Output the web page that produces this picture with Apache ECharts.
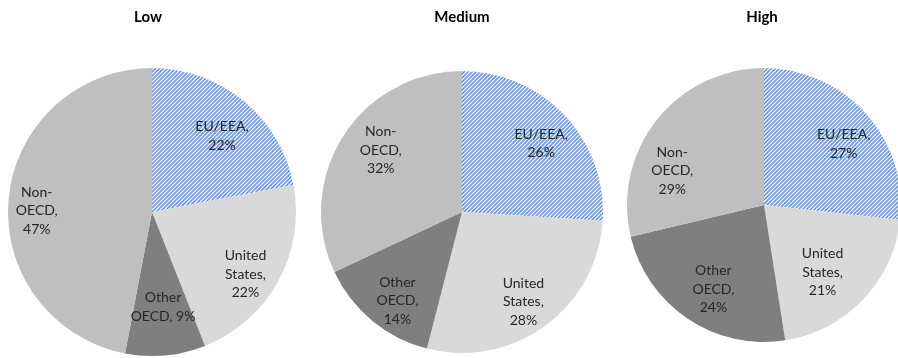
<!DOCTYPE html>
<html><head><meta charset="utf-8">
<script src="https://cdn.jsdelivr.net/npm/echarts@6/dist/echarts.min.js"></script>
<style>html,body{margin:0;padding:0;background:#fff}#c{width:898px;height:358px}</style>
</head><body><div id="c"></div>
<script>
const categories = ['EU/EEA', 'United States', 'Other OECD', 'Non-OECD'];
const panelTitles = ['Low', 'Medium', 'High'];
const lowValues = [22, 22, 9, 47];
const mediumValues = [26, 28, 14, 32];
const highValues = [27, 21, 24, 29];

const panelValues = [lowValues, mediumValues, highValues];
const geom = [
  { cx: 152, cy: 212, r: 144, tx: 143 },
  { cx: 462, cy: 212, r: 141, tx: 457 },
  { cx: 764, cy: 205, r: 137, tx: 757 }
];
// small label nudges (px) to mimic the best-fit placement of the original
const labelNudges = [
  [[2, 6], [0, 11], [1, -11], [-9, 9]],
  [[3, 3], [0, 5], [2, 8], [7, -6]],
  [[4, 7], [-15, -3], [6, 0], [-12, 29]]
];
const labelNames = {
  'EU/EEA': 'EU/EEA,',
  'United States': 'United\nStates,',
  'Other OECD': 'Other\nOECD,',
  'Non-OECD': 'Non-\nOECD,'
};

// hatch pattern: wide upward diagonal lines
const tile = document.createElement('canvas');
tile.width = 8; tile.height = 8;
const g = tile.getContext('2d');
g.fillStyle = '#ffffff'; g.fillRect(0, 0, 8, 8);
g.strokeStyle = '#6f99d3'; g.lineWidth = 1.6;
for (let c = 0; c <= 16; c += 4) {
  g.beginPath(); g.moveTo(c + 2, -2); g.lineTo(c - 10, 10); g.stroke();
}
const colors = [{ image: tile, repeat: 'repeat' }, '#d9d9d9', '#7f7f7f', '#bfbfbf'];

const series = [];
const titles = [];
panelValues.forEach((vals, p) => {
  const gm = geom[p];
  const data = categories.map((c, i) => ({ name: c, value: vals[i], itemStyle: { color: colors[i] } }));
  series.push({
    type: 'pie', center: [gm.cx, gm.cy], radius: [0, gm.r], startAngle: 90, clockwise: true,
    silent: true, label: { show: false }, labelLine: { show: false },
    itemStyle: { borderWidth: 0 }, data: data
  });
  series.push({
    type: 'pie', center: [gm.cx, gm.cy], radius: [gm.r * 0.44, gm.r], startAngle: 90, clockwise: true,
    silent: true, avoidLabelOverlap: false, labelLine: { show: false },
    itemStyle: { color: 'rgba(0,0,0,0)', borderWidth: 0 },
    label: {
      show: true, position: 'inside', rotate: 0,
      fontFamily: 'Lato', fontSize: 14, color: '#262626', lineHeight: 18.5, align: 'center',
      formatter: (prm) => labelNames[prm.name] + (prm.value < 10 ? ' ' : '\n') + prm.value + '%'
    },
    labelLayout: (prm) => ({ dx: labelNudges[p][prm.dataIndex][0], dy: labelNudges[p][prm.dataIndex][1] }),
    emphasis: { disabled: true },
    data: categories.map((c, i) => ({ name: c, value: vals[i] }))
  });
  titles.push({
    text: panelTitles[p], left: gm.tx, top: 5, textAlign: 'center',
    textStyle: { fontFamily: 'Lato', fontSize: 15, fontWeight: 'bold', color: '#000' }
  });
});

const chart = echarts.init(document.getElementById('c'), null, { renderer: 'canvas' });
chart.setOption({ animation: false, title: titles, series: series });
</script>
</body></html>
